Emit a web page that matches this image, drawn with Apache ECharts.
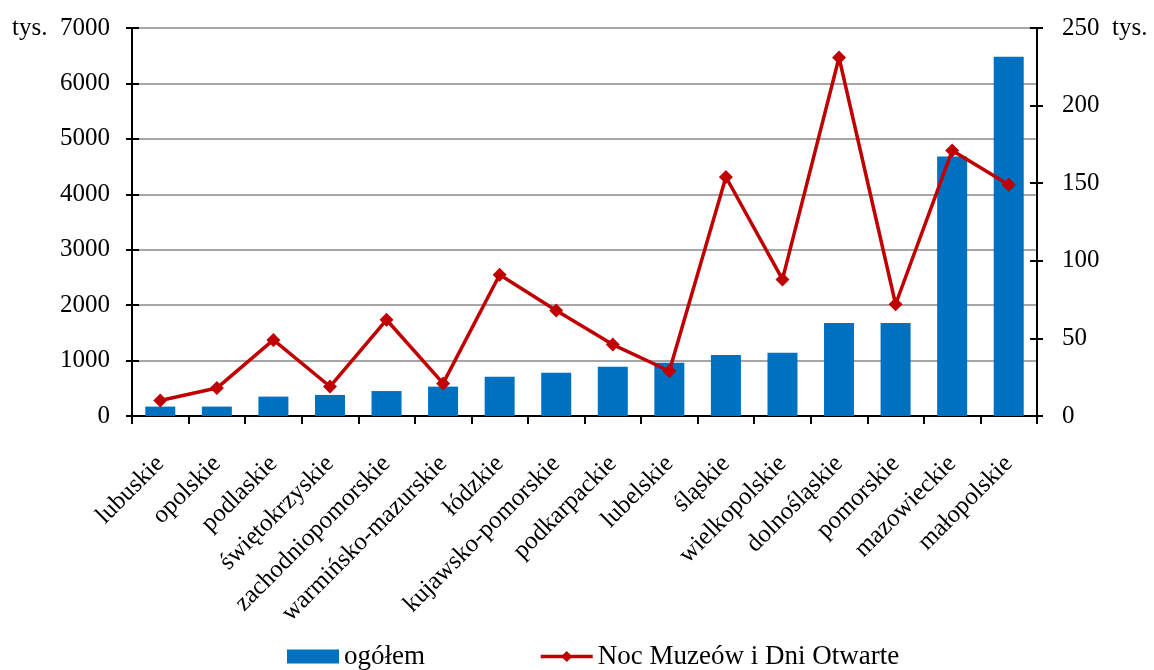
<!DOCTYPE html>
<html><head><meta charset="utf-8">
<script src="https://cdn.jsdelivr.net/npm/echarts@6/dist/echarts.min.js"></script>
<style>html,body{margin:0;padding:0;background:#fff}#c{width:1154px;height:670px}</style>
</head><body><div id="c"></div>
<script>
const categories = ['lubuskie','opolskie','podlaskie','świętokrzyskie','zachodniopomorskie','warmińsko-mazurskie','łódzkie','kujawsko-pomorskie','podkarpackie','lubelskie','śląskie','wielkopolskie','dolnośląskie','pomorskie','mazowieckie','małopolskie'];
const ogolem = [170,170,350,380,450,530,710,780,890,960,1100,1140,1680,1680,4680,6480];
const nocMuzeow = [10,18,49,19,62,21,91,68,46,29,154,88,231,72,171,149];
const leftTicks = {min:0,max:7000,interval:1000,unit:'tys.'};
const rightTicks = {min:0,max:250,interval:50,unit:'tys.'};

const font = 'Liberation Serif';
const chart = echarts.init(document.getElementById('c'));
const axisLine = {show:true,lineStyle:{color:'#000',width:2}};
chart.setOption({
  animation:false,
  textStyle:{fontFamily:font},
  grid:{left:132,right:117,top:28,bottom:254},
  legend:{
    top:638,left:282,itemWidth:52,itemHeight:14,itemGap:114,
    textStyle:{fontFamily:font,fontSize:27,color:'#000'},
    data:[{name:'ogółem',icon:'rect'},
          {name:'Noc Muzeów i Dni Otwarte',lineStyle:{width:3.5,color:'#C00000'}}]
  },
  xAxis:{
    type:'category',data:categories,boundaryGap:true,
    axisLine:axisLine,
    axisTick:{show:true,alignWithLabel:false,length:8,lineStyle:{color:'#000',width:2}},
    axisLabel:{rotate:45,interval:0,margin:44,fontFamily:font,fontSize:25,color:'#000'}
  },
  yAxis:[
    {type:'value',position:'left',min:leftTicks.min,max:leftTicks.max,interval:leftTicks.interval,
     axisLine:axisLine,axisTick:{show:true,length:6,lineStyle:{color:'#000',width:2}},
     splitLine:{show:true,lineStyle:{color:'#888',width:1.5}},
     axisLabel:{margin:22,fontFamily:font,fontSize:25,color:'#000',
       formatter:v=>v===leftTicks.max?leftTicks.unit+'  '+v:String(v)}},
    {type:'value',position:'right',min:rightTicks.min,max:rightTicks.max,interval:rightTicks.interval,
     axisLine:axisLine,axisTick:{show:true,length:6,lineStyle:{color:'#000',width:2}},
     splitLine:{show:false},
     axisLabel:{margin:25,fontFamily:font,fontSize:25,color:'#000',
       formatter:v=>v===rightTicks.max?v+'  '+rightTicks.unit:String(v)}},
    {type:'value',position:'left',min:leftTicks.min,max:leftTicks.max,interval:leftTicks.interval,
     axisLine:{show:false},axisTick:{show:true,inside:true,length:7,lineStyle:{color:'#000',width:2}},
     splitLine:{show:false},axisLabel:{show:false}},
    {type:'value',position:'right',min:rightTicks.min,max:rightTicks.max,interval:rightTicks.interval,
     axisLine:{show:false},axisTick:{show:true,inside:true,length:7,lineStyle:{color:'#000',width:2}},
     splitLine:{show:false},axisLabel:{show:false}}
  ],
  series:[
    {name:'ogółem',type:'bar',data:ogolem,yAxisIndex:0,barWidth:30,itemStyle:{color:'#0070C0'}},
    {name:'Noc Muzeów i Dni Otwarte',type:'line',data:nocMuzeow,yAxisIndex:1,
     symbol:'diamond',symbolSize:14,lineStyle:{color:'#C00000',width:3.5},itemStyle:{color:'#C00000'}}
  ]
});
</script></body></html>
